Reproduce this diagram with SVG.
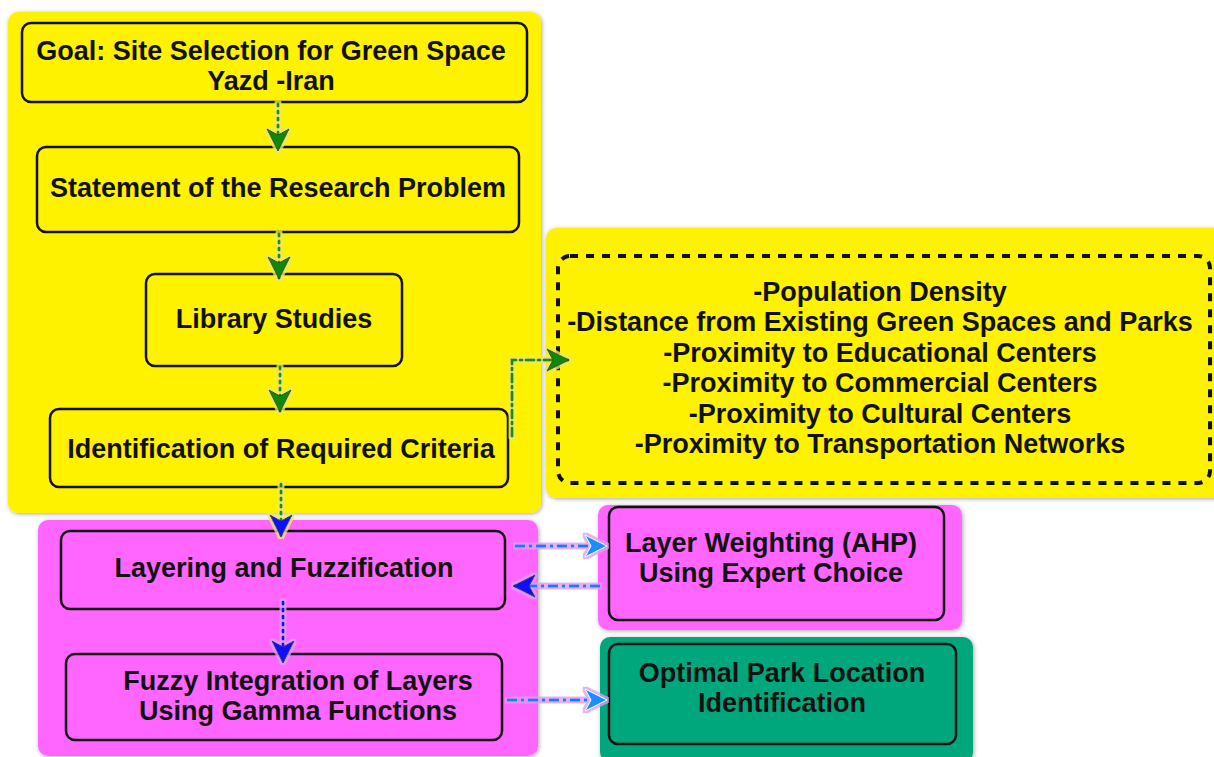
<svg xmlns="http://www.w3.org/2000/svg" width="1214" height="757" viewBox="0 0 1214 757">
<defs>
<filter id="sh" x="-5%" y="-5%" width="110%" height="110%">
<feDropShadow dx="1" dy="1" stdDeviation="2" flood-color="#000" flood-opacity="0.35"/>
</filter>
<filter id="glow" filterUnits="userSpaceOnUse" x="0" y="0" width="1214" height="757">
<feMorphology in="SourceAlpha" operator="dilate" radius="1.5" result="d"/>
<feFlood flood-color="#e8e870" flood-opacity="0.8"/>
<feComposite in2="d" operator="in" result="g"/>
<feMerge><feMergeNode in="g"/><feMergeNode in="SourceGraphic"/></feMerge>
</filter>
<filter id="glowb" filterUnits="userSpaceOnUse" x="0" y="0" width="1214" height="757">
<feMorphology in="SourceAlpha" operator="dilate" radius="1.5" result="d"/>
<feFlood flood-color="#d9a0f0" flood-opacity="0.8"/>
<feComposite in2="d" operator="in" result="g"/>
<feMerge><feMergeNode in="g"/><feMergeNode in="SourceGraphic"/></feMerge>
</filter>
<marker id="ag" viewBox="0 0 24 24" refX="22" refY="12" markerWidth="24" markerHeight="24" markerUnits="userSpaceOnUse" orient="auto">
<path d="M1,1 L23,12 L1,23 L7,12 Z" fill="#0a8a0a" stroke="#3a4a00" stroke-width="1"/>
</marker>
<marker id="ab" viewBox="0 0 24 24" refX="22" refY="12" markerWidth="24" markerHeight="24" markerUnits="userSpaceOnUse" orient="auto">
<path d="M1,1 L23,12 L1,23 L7,12 Z" fill="#1010ff" stroke="#30306a" stroke-width="1"/>
</marker>
<marker id="al" viewBox="0 0 24 24" refX="22" refY="12" markerWidth="24" markerHeight="24" markerUnits="userSpaceOnUse" orient="auto">
<path d="M1,1 L23,12 L1,23 L7,12 Z" fill="#1a8cff" stroke="#ffffff" stroke-width="1"/>
</marker>
</defs>
<style>
.panel{filter:url(#sh)}
.node{stroke:#111;stroke-width:2.5}
.y{fill:#fff200}
.m{fill:#ff66ff}
.g{fill:#00a67c}
text{font-family:"Liberation Sans",Arial,sans-serif;font-weight:bold;font-size:27px;fill:#111;text-anchor:middle}
.cg{fill:none;stroke:#1a8c1a;stroke-width:3;stroke-dasharray:2 5;stroke-linecap:round}
.cgd{fill:none;stroke:#1a8c1a;stroke-width:3;stroke-dasharray:8 4 2 4;stroke-linecap:round}
.cb{fill:none;stroke:#1a7aff;stroke-width:3;stroke-dasharray:10 4 3 4}
.cbd{fill:none;stroke:#1010ff;stroke-width:3;stroke-dasharray:2 5;stroke-linecap:round}
.gy{filter:url(#glow)}
.gb{filter:url(#glowb)}
</style>
<g id="panels">
<rect class="panel y" x="8" y="12" width="533" height="501" rx="10"/>
<rect class="panel y" x="546" y="228" width="680" height="270" rx="10"/>
<rect class="panel m" x="38" y="520" width="500" height="236" rx="10"/>
<rect class="panel m" x="598" y="505" width="364" height="125" rx="10"/>
<rect class="panel g" x="600" y="637" width="373" height="125" rx="10"/>
</g>
<g id="node-goal">
<rect class="node y" x="22" y="23" width="505" height="79" rx="9"/>
<text x="271" y="60">Goal: Site Selection for Green Space</text>
<text x="271" y="90">Yazd -Iran</text>
</g>
<g id="node-statement">
<rect class="node y" x="37" y="147" width="482" height="85" rx="9"/>
<text x="278" y="197">Statement of the Research Problem</text>
</g>
<g id="node-library">
<rect class="node y" x="146" y="274" width="256" height="92" rx="9"/>
<text x="274" y="328">Library Studies</text>
</g>
<g id="node-identification">
<rect class="node y" x="50" y="409" width="458" height="78" rx="9"/>
<text x="281" y="458">Identification of Required Criteria</text>
</g>
<g id="node-criteria">
<rect x="558" y="256" width="652" height="227" rx="12" fill="#fff200" stroke="#111" stroke-width="4" stroke-dasharray="8 8"/>
<text x="880" y="301">-Population Density</text>
<text x="880" y="331">-Distance from Existing Green Spaces and Parks</text>
<text x="880" y="362">-Proximity to Educational Centers</text>
<text x="880" y="392">-Proximity to Commercial Centers</text>
<text x="880" y="423">-Proximity to Cultural Centers</text>
<text x="880" y="453">-Proximity to Transportation Networks</text>
</g>
<g id="node-layering">
<rect class="node m" x="61" y="531" width="444" height="78" rx="9"/>
<text x="284" y="577">Layering and Fuzzification</text>
</g>
<g id="node-fuzzy">
<rect class="node m" x="66" y="654" width="436" height="86" rx="9"/>
<text x="298" y="690">Fuzzy Integration of Layers</text>
<text x="298" y="720">Using Gamma Functions</text>
</g>
<g id="node-weighting">
<rect class="node m" x="609" y="507" width="335" height="113" rx="9"/>
<text x="771" y="552">Layer Weighting (AHP)</text>
<text x="771" y="582">Using Expert Choice</text>
</g>
<g id="node-optimal">
<rect class="node g" x="609" y="644" width="347" height="100" rx="9"/>
<text x="782" y="682">Optimal Park Location</text>
<text x="782" y="712">Identification</text>
</g>
<g id="connectors">
<path class="cg gy" d="M278,104 V150" marker-end="url(#ag)"/>
<path class="cg gy" d="M279,234 V278" marker-end="url(#ag)"/>
<path class="cg gy" d="M280,367 V411" marker-end="url(#ag)"/>
<path class="cg gy" d="M281,484 V536" marker-end="url(#ab)"/>
<path class="cgd gy" d="M512,436 V360 H568" marker-end="url(#ag)"/>
<path class="cbd gb" d="M283,602 V662" marker-end="url(#ab)"/>
<path class="cb gb" d="M515,546 H606" marker-end="url(#al)"/>
<path class="cb gb" d="M600,586 H514" marker-end="url(#ab)"/>
<path class="cb gb" d="M507,700 H606" marker-end="url(#al)"/>
</g>
</svg>
